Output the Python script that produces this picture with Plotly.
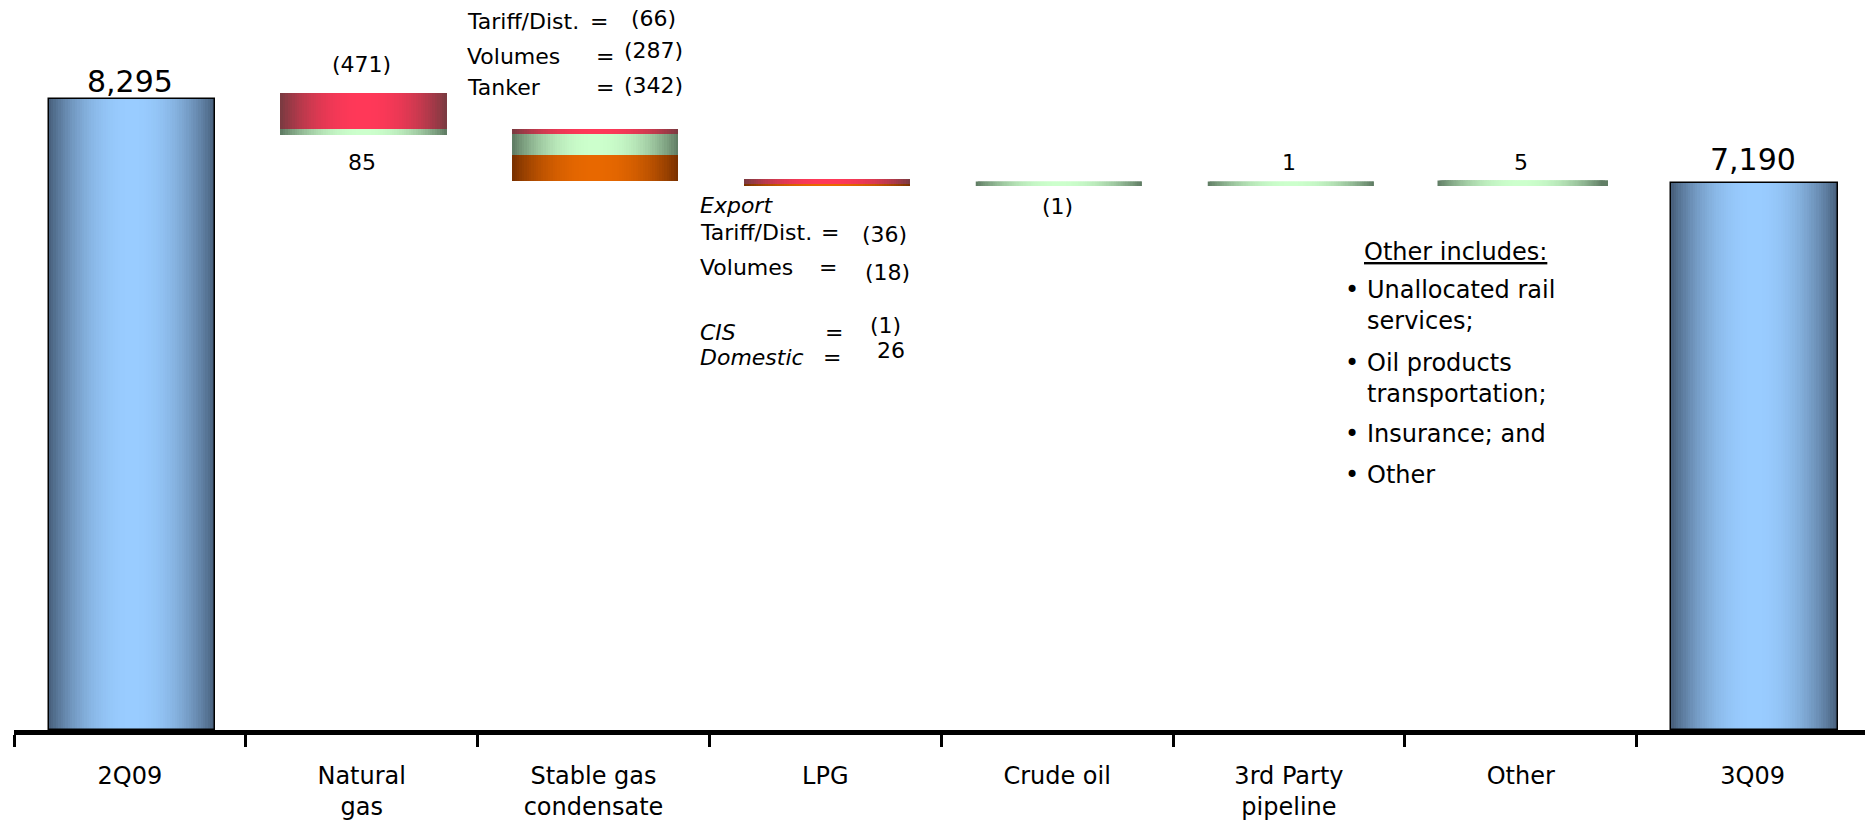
import plotly.graph_objects as go

# ---------------- data ----------------
categories = ["2Q09", "Natural<br>gas", "Stable gas<br>condensate", "LPG",
              "Crude oil", "3rd Party<br>pipeline", "Other", "3Q09"]
opening_total = 8295
closing_total = 7190

natural_gas_values = [-471, 85]
condensate_names = ["Tariff/Dist.", "Volumes", "Tanker"]
condensate_values = [-66, -287, -342]
lpg_names = ["Tariff/Dist.", "Volumes", "CIS", "Domestic"]
lpg_values = [-36, -18, -1, 26]
crude_values = [-1]
third_party_values = [1]
other_values = [5]

other_includes = ["Unallocated rail", "services;", "Oil products", "transportation;",
                  "Insurance; and", "Other"]

# ---------------- styles ----------------
FONT = "DejaVu Sans"
GRAD = {
    "blue": ((0x46, 0x5e, 0x7a), (0x99, 0xcc, 0xff)),
    "red": ((0x78, 0x3a, 0x40), (0xff, 0x38, 0x58)),
    "green": ((0x5e, 0x7a, 0x62), (0xcc, 0xff, 0xcc)),
    "orange": ((0x78, 0x30, 0x00), (0xe8, 0x68, 0x00)),
}
step_colors = {
    1: ["red", "green"],
    2: ["red", "green", "orange"],
    3: ["red", "red", "red", "orange"],
    4: ["green"],
    5: ["green"],
    6: ["green"],
}
step_values = {1: natural_gas_values, 2: condensate_values, 3: lpg_values,
               4: crude_values, 5: third_party_values, 6: other_values}

# ---------------- build segments ----------------
segments = []  # (cat_index, base, height, colour key, thin)
segments.append((0, 0, opening_total, "blue", False))
running = opening_total
tops, bottoms, ends = {}, {}, {}
for i in range(1, 7):
    vals = step_values[i]
    cols = step_colors[i]
    top = running + sum(v for v in vals if v > 0)
    cursor = top
    order = [k for k, v in enumerate(vals) if v < 0] + [k for k, v in enumerate(vals) if v > 0]
    thin = sum(abs(v) for v in vals) < 20
    for k in order:
        h = abs(vals[k])
        segments.append((i, cursor - h, h, cols[k], thin))
        cursor -= h
    tops[i], bottoms[i] = top, cursor
    running += sum(vals)
    ends[i] = running
segments.append((7, 0, closing_total, "blue", False))

# ---------------- figure ----------------
fig = go.Figure()
BW = 0.717
SHIFT = 0.008
N = 70
sw = BW / N


def mix(c0, c1, t):
    return "rgb(%d,%d,%d)" % tuple(round(a + (b - a) * t) for a, b in zip(c0, c1))


for key in ["blue", "red", "green", "orange"]:
    segs = [s for s in segments if s[3] == key]
    if not segs:
        continue
    edge, centre = GRAD[key]
    for k in range(N):
        t = (k + 0.5) / N
        s = 1 - abs(2 * t - 1)
        s = 1 - (1 - s) ** 2.2
        col = mix(edge, centre, s)
        fig.add_trace(go.Bar(
            x=[categories[s_[0]] for s_ in segs],
            y=[s_[2] for s_ in segs],
            base=[s_[1] for s_ in segs],
            offset=-BW / 2 + SHIFT + k * sw,
            width=sw * 2.0 if k < N - 1 else sw,
            marker=dict(color=col,
                        line=dict(color=col, width=[4.5 if s_[4] else 0 for s_ in segs])),
            hoverinfo="skip", showlegend=False,
        ))

# outline of total bars
fig.add_trace(go.Bar(
    x=[categories[0], categories[7]], y=[opening_total, closing_total], base=0,
    offset=-BW / 2 + SHIFT, width=BW,
    marker=dict(color="rgba(0,0,0,0)", line=dict(color="black", width=1.5)),
    hoverinfo="skip", showlegend=False,
))


def fmt(v):
    return "(%s)" % format(abs(v), ",") if v < 0 else format(v, ",")


annotations = []


def val_label(i, y, text, shift, size=22):
    annotations.append(dict(x=categories[i], y=y, xref="x", yref="y", text=text,
                            showarrow=False, yshift=shift, yanchor="middle",
                            font=dict(family=FONT, size=size, color="black")))


val_label(0, opening_total, format(opening_total, ","), 18, 30)
val_label(7, closing_total, format(closing_total, ","), 24, 30)
val_label(1, tops[1], fmt(natural_gas_values[0]), 28)
val_label(1, bottoms[1], fmt(natural_gas_values[1]), -27)
val_label(4, bottoms[4], fmt(crude_values[0]), -23)
val_label(5, tops[5], fmt(third_party_values[0]), 21)
val_label(6, tops[6], fmt(other_values[0]), 21)


def ann(text, px, py, size=22, xanchor="left"):
    annotations.append(dict(text=text, xref="paper", yref="paper",
                            x=(px - 14) / 1851, y=(730 - py) / 730,
                            xanchor=xanchor, yanchor="middle", showarrow=False,
                            font=dict(family=FONT, size=size, color="black")))


# condensate breakdown
cond_y = [21, 56, 87]
cond_vy = [19, 50, 86]
cond_eq = [599, 605, 605]
for n, v, y, vy, ex in zip(condensate_names, condensate_values, cond_y, cond_vy, cond_eq):
    ann(n, 465, y)
    ann("=", ex, y, xanchor="center")
    ann(fmt(v), 653, vy, xanchor="center")

# LPG breakdown
ann("<i>Export</i>", 698, 206)
lpg_y = [232, 267, 332, 357]
lpg_vy = [235, 272, 325, 350]
lpg_eq = [830, 828, 834, 832]
lpg_vx = [884, 887, 885, 891]
for idx, (n, v, y, vy, ex, vx) in enumerate(zip(lpg_names, lpg_values, lpg_y, lpg_vy, lpg_eq, lpg_vx)):
    ann(("<i>%s</i>" % n) if idx >= 2 else n, 698, y)
    ann("=", ex, y, xanchor="center")
    ann(fmt(v), vx, vy, xanchor="center")

# Other includes block
ann('<span style="text-decoration:underline">Other includes:</span>', 1362, 252, 24)
other_y = [290, 321, 363, 394, 434, 475]
bullet = [True, False, True, False, True, True]
for t, y, b in zip(other_includes, other_y, bullet):
    if b:
        ann("•", 1343, y, 24)
    ann(t, 1365, y, 24)

fig.update_layout(
    width=1865, height=826,
    margin=dict(l=14, r=0, t=0, b=96),
    paper_bgcolor="white", plot_bgcolor="white",
    barmode="overlay", bargap=0,
    showlegend=False,
    annotations=annotations,
    font=dict(family=FONT, color="black"),
    xaxis=dict(type="category", categoryorder="array", categoryarray=categories,
               range=[-0.5, 7.485], showline=True, linecolor="black", linewidth=5,
               ticks="outside", tickson="boundaries", ticklen=12, tickwidth=2.5,
               tickcolor="black", showgrid=False, zeroline=False,
               tickfont=dict(family=FONT, size=24, color="black"),
               ticklabelstandoff=20, fixedrange=True),
    yaxis=dict(visible=False, range=[0, 9600], fixedrange=True),
)

fig.write_html("out.html")
